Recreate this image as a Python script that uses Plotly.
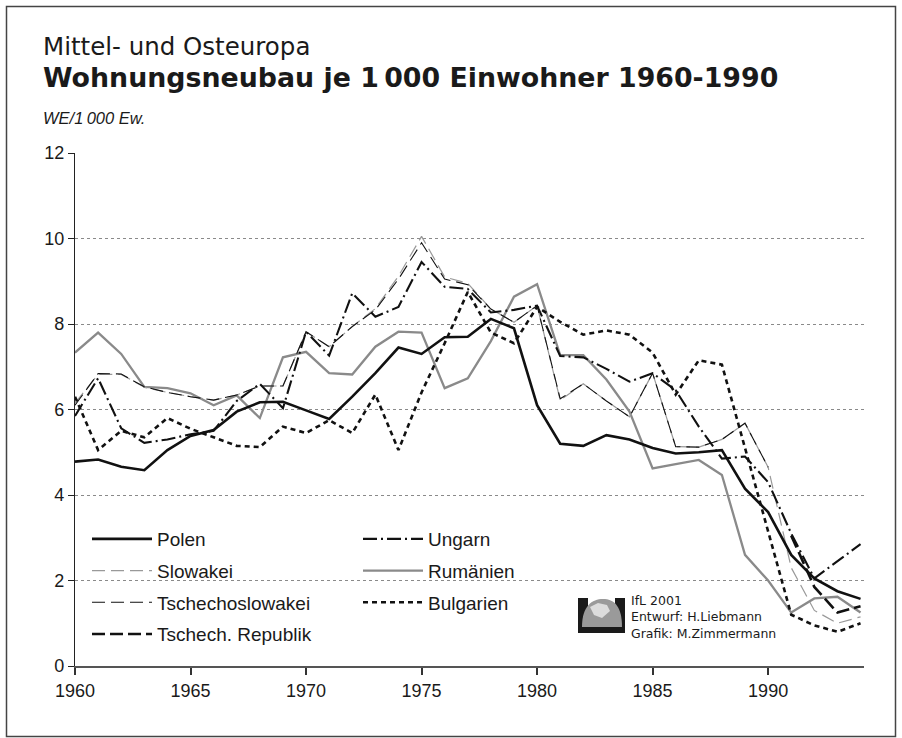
import plotly.graph_objects as go

years = list(range(1960, 1995))

polen = [4.78, 4.83, 4.66, 4.58, 5.05, 5.38, 5.52, 5.95, 6.17, 6.18,
         5.98, 5.78, 6.30, 6.85, 7.45, 7.30, 7.69, 7.70, 8.12, 7.90,
         6.10, 5.20, 5.15, 5.40, 5.30, 5.10, 4.97, 5.00, 5.05, 4.15,
         3.60, 2.60, 2.05, 1.75, 1.57]

ungarn = [5.85, 6.73, 5.56, 5.22, 5.30, 5.42, 5.50, 6.20, 6.60, 6.03,
          7.82, 7.26, 8.72, 8.17, 8.40, 9.45, 8.87, 8.82, 8.27, 8.33,
          8.43, 7.25, 7.22, 6.95, 6.65, 6.85, 6.45, 5.60, 4.85, 4.90,
          4.30, 3.10, 2.05, 2.45, 2.85]

slowakei = [6.15, 6.82, 6.82, 6.52, 6.40, 6.30, 6.22, 6.34, 6.55, 6.55,
            7.82, 7.47, 7.94, 8.36, 9.12, 10.05, 9.10, 8.95, 8.35, 8.04,
            8.43, 6.22, 6.60, 6.20, 5.83, 6.85, 5.13, 5.12, 5.30, 5.68,
            4.65, 2.30, 1.30, 1.00, 1.15]

tschechoslowakei = [6.10, 6.84, 6.83, 6.53, 6.40, 6.30, 6.22, 6.34, 6.55, 6.55,
                    7.82, 7.47, 7.94, 8.33, 9.05, 9.90, 9.05, 8.92, 8.35, 8.04,
                    8.43, 6.25, 6.60, 6.20, 5.83, 6.85, 5.13, 5.12, 5.30, 5.68,
                    4.65, None, None, None, None]

tschech_rep = [None] * 31 + [3.05, 1.85, 1.25, 1.40]

rumaenien = [7.33, 7.80, 7.30, 6.53, 6.50, 6.38, 6.10, 6.33, 5.80, 7.22,
             7.35, 6.85, 6.82, 7.47, 7.82, 7.80, 6.50, 6.73, 7.60, 8.64,
             8.93, 7.27, 7.27, 6.70, 5.95, 4.62, 4.72, 4.82, 4.47, 2.60,
             2.00, 1.25, 1.58, 1.62, 1.25]

bulgarien = [6.30, 5.05, 5.50, 5.35, 5.80, 5.55, 5.35, 5.15, 5.12, 5.60,
             5.45, 5.75, 5.45, 6.35, 5.05, 6.40, 7.55, 8.75, 7.80, 7.55,
             8.40, 8.05, 7.75, 7.85, 7.75, 7.33, 6.35, 7.15, 7.05, 5.10,
             3.20, 1.20, 0.95, 0.80, 1.00]

x_ticks = [1960, 1965, 1970, 1975, 1980, 1985, 1990]
y_ticks = [0, 2, 4, 6, 8, 10, 12]

W, H = 902, 738
L, R, T, B = 75, 864, 153, 666


def px(x):
    return (x - L) / (R - L)


def py(y):
    return (B - y) / (B - T)


FONT = "Liberation Sans, Arial, sans-serif"

fig = go.Figure()

series = [
    # name, data, color, width, dash, legend, rank
    ("Rumänien", rumaenien, "#8a8a8a", 2.3, "solid", "legend2", 2),
    ("Slowakei", slowakei, "#999999", 1.2, "13px,6px", "legend", 2),
    ("Bulgarien", bulgarien, "#111111", 2.6, "5px,4px", "legend2", 3),
    ("Tschechoslowakei", tschechoslowakei, "#111111", 1.1, "13px,6px", "legend", 3),
    ("Tschech. Republik", tschech_rep, "#111111", 2.6, "13px,5px", "legend", 4),
    ("Ungarn", ungarn, "#111111", 2.1, "14px,4px,2px,4px", "legend2", 1),
    ("Polen", polen, "#111111", 2.6, "solid", "legend", 1),
]

for name, vals, col, w, dash, lg, rank in series:
    fig.add_trace(go.Scatter(
        x=years, y=vals, name=name, mode="lines",
        line=dict(color=col, width=w, dash=dash),
        legend=lg, legendrank=rank, legendgroup=name,
        connectgaps=False, hoverinfo="skip",
    ))

shapes = []
# outer frame
shapes.append(dict(type="rect", xref="paper", yref="paper",
                   x0=px(6.5), x1=px(895.5), y0=py(6.5), y1=py(736.5),
                   line=dict(color="#444444", width=1.5), layer="below"))

# logo (IfL)
shapes.append(dict(type="rect", xref="paper", yref="paper",
                   x0=px(578), x1=px(588), y0=py(633), y1=py(598),
                   fillcolor="#1a1a1a", line=dict(width=0)))
shapes.append(dict(type="rect", xref="paper", yref="paper",
                   x0=px(615), x1=px(625), y0=py(633), y1=py(598),
                   fillcolor="#1a1a1a", line=dict(width=0)))
shapes.append(dict(type="rect", xref="paper", yref="paper",
                   x0=px(588), x1=px(615), y0=py(633), y1=py(627),
                   fillcolor="#1a1a1a", line=dict(width=0)))
shapes.append(dict(type="path", xref="paper", yref="paper",
                   path=("M %f,%f C %f,%f %f,%f %f,%f C %f,%f %f,%f %f,%f Z" % (
                       px(582), py(627),
                       px(582), py(606), px(592), py(599), px(603), py(599),
                       px(614), py(599), px(622), py(606), px(622), py(627))),
                   fillcolor="#9a9a9a", line=dict(width=0)))
shapes.append(dict(type="path", xref="paper", yref="paper",
                   path=("M %f,%f L %f,%f L %f,%f L %f,%f L %f,%f L %f,%f Z" % (
                       px(590), py(607), px(598), py(603), px(607), py(605),
                       px(610), py(611), px(602), py(618), px(594), py(615))),
                   fillcolor="#dcdcdc", line=dict(width=0)))

annotations = [
    dict(text="Mittel- und Osteuropa", x=px(41), y=py(46), xref="paper", yref="paper",
         xanchor="left", yanchor="middle", showarrow=False,
         font=dict(family="DejaVu Sans, sans-serif", size=24.5, color="#1a1a1a")),
    dict(text="<b>Wohnungsneubau je 1\u2009000 Einwohner 1960-1990</b>", x=px(41), y=py(77),
         xref="paper", yref="paper", xanchor="left", yanchor="middle", showarrow=False,
         font=dict(family="DejaVu Sans, sans-serif", size=26.8, color="#1a1a1a")),
    dict(text="<i>WE/1\u2009000 Ew.</i>", x=px(41), y=py(118), xref="paper", yref="paper",
         xanchor="left", yanchor="middle", showarrow=False,
         font=dict(family=FONT, size=16.5, color="#1a1a1a")),
    dict(text="IfL 2001<br>Entwurf: H.Liebmann<br>Grafik: M.Zimmermann",
         x=px(630), y=py(616.5), xref="paper", yref="paper", align="left",
         xanchor="left", yanchor="middle", showarrow=False, borderpad=0,
         font=dict(family="DejaVu Sans, sans-serif", size=12.5, color="#1a1a1a")),
]

legend_common = dict(
    bgcolor="rgba(0,0,0,0)", borderwidth=0,
    font=dict(family=FONT, size=19, color="#1a1a1a"),
    itemwidth=60, traceorder="grouped", tracegroupgap=4,
    xanchor="left", yanchor="top", itemclick=False, itemdoubleclick=False,
)

fig.update_layout(
    width=W, height=H,
    margin=dict(l=L, r=W - R, t=T, b=H - B),
    paper_bgcolor="white", plot_bgcolor="white",
    showlegend=True,
    legend=dict(x=px(87), y=py(520), **legend_common),
    legend2=dict(x=px(358), y=py(520), **legend_common),
    xaxis=dict(
        range=[1960, 1994.15], tickvals=x_ticks, ticktext=[str(v) for v in x_ticks],
        showgrid=False, zeroline=False,
        showline=True, linecolor="#555555", linewidth=2,
        ticks="outside", ticklen=7, tickwidth=1.5, tickcolor="#333333",
        tickfont=dict(family=FONT, size=18, color="#1a1a1a"),
        fixedrange=True,
    ),
    yaxis=dict(
        range=[0, 12], tickvals=y_ticks, ticktext=[str(v) for v in y_ticks],
        showgrid=True, gridcolor="#8a8a8a", gridwidth=1, griddash="dot",
        zeroline=False,
        showline=True, linecolor="#222222", linewidth=1.2,
        ticks="outside", ticklen=6, tickwidth=1.2, tickcolor="#222222",
        tickfont=dict(family=FONT, size=18, color="#1a1a1a"),
        fixedrange=True,
    ),
    shapes=shapes,
    annotations=annotations,
)

fig.write_html("out.html", config={"displayModeBar": False},
               post_script="document.body.style.margin='0px';")
